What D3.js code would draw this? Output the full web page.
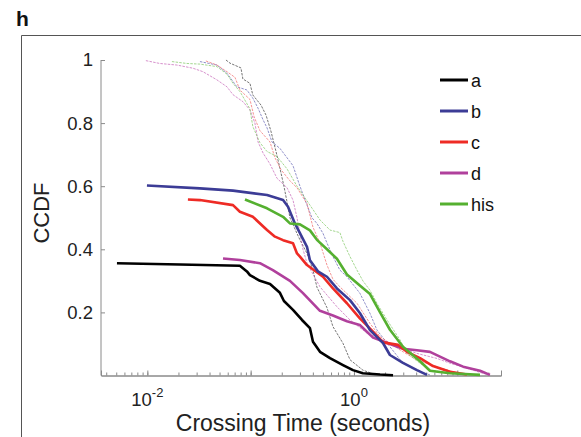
<!DOCTYPE html>
<html><head><meta charset="utf-8">
<script src="https://cdn.jsdelivr.net/npm/d3@7"></script>
<style>body{margin:0;background:#fff}svg{display:block}text{font-family:"Liberation Sans",Arial,sans-serif}</style>
</head><body>
<svg id="c" width="581" height="437"></svg>
<script>
// CCDF data: [crossing time (s), CCDF]
const aThick = [[0.00508,0.356],[0.0207,0.352],[0.0787,0.348],[0.0920,0.330],[0.0984,0.318],[0.123,0.300],[0.154,0.290],[0.192,0.262],[0.210,0.236],[0.257,0.208],[0.314,0.176],[0.375,0.150],[0.401,0.107],[0.469,0.075],[0.586,0.055],[0.783,0.033],[0.978,0.017],[1.22,0.007],[1.79,0.003],[2.39,0.001]];
const bThick = [[0.00991,0.602],[0.0323,0.593],[0.0675,0.586],[0.144,0.572],[0.206,0.556],[0.230,0.535],[0.268,0.482],[0.300,0.451],[0.351,0.408],[0.375,0.365],[0.448,0.330],[0.548,0.313],[0.684,0.276],[0.915,0.239],[1.14,0.198],[1.43,0.144],[1.91,0.103],[2.23,0.065],[2.98,0.040],[4.07,0.017],[5.09,0.002]];
const cThick = [[0.0247,0.558],[0.0323,0.556],[0.0675,0.540],[0.0787,0.519],[0.105,0.503],[0.144,0.461],[0.172,0.440],[0.206,0.429],[0.257,0.419],[0.281,0.387],[0.300,0.377],[0.351,0.350],[0.501,0.313],[0.626,0.276],[0.855,0.229],[1.14,0.181],[1.53,0.139],[1.91,0.105],[2.67,0.097],[3.26,0.075],[4.36,0.055],[5.82,0.030],[8.50,0.012],[12.4,0.003]];
const dThick = [[0.0540,0.371],[0.0787,0.366],[0.123,0.356],[0.164,0.334],[0.240,0.300],[0.321,0.261],[0.469,0.205],[0.626,0.190],[0.855,0.172],[1.14,0.160],[1.53,0.120],[2.23,0.100],[2.98,0.085],[4.07,0.080],[5.44,0.075],[6.80,0.060],[8.50,0.045],[11.4,0.028],[16.6,0.015],[20.7,0.002]];
const hisThick = [[0.0881,0.558],[0.144,0.530],[0.206,0.503],[0.240,0.482],[0.300,0.479],[0.375,0.460],[0.438,0.430],[0.548,0.400],[0.684,0.370],[0.855,0.320],[1.14,0.285],[1.43,0.258],[1.79,0.200],[2.23,0.145],[2.98,0.091],[4.36,0.045],[5.44,0.015],[8.50,0.007],[16.6,0.002]];

const aThin = [[0.0577,1.0],[0.0631,0.99],[0.0805,0.975],[0.0841,0.94],[0.0984,0.926],[0.105,0.889],[0.126,0.857],[0.141,0.825],[0.157,0.775],[0.176,0.71],[0.192,0.657],[0.210,0.60],[0.225,0.55],[0.240,0.50],[0.281,0.45],[0.300,0.43],[0.351,0.387],[0.401,0.334],[0.438,0.28],[0.548,0.215],[0.626,0.155],[0.783,0.102],[0.915,0.05],[1.22,0.017],[1.60,0.003]];
const bThin = [[0.0323,0.995],[0.0472,0.984],[0.0590,0.958],[0.0736,0.915],[0.0920,0.905],[0.105,0.879],[0.118,0.847],[0.132,0.81],[0.144,0.785],[0.161,0.74],[0.192,0.72],[0.257,0.665],[0.300,0.60],[0.351,0.54],[0.392,0.50],[0.438,0.482],[0.501,0.451],[0.548,0.42],[0.626,0.377],[0.731,0.334],[0.855,0.313],[1.14,0.261],[1.43,0.197],[1.67,0.144],[2.23,0.091],[2.98,0.039],[4.36,0.012],[5.44,0.002]];
const cThin = [[0.0369,0.997],[0.0472,0.984],[0.0590,0.963],[0.0705,0.945],[0.0787,0.905],[0.0984,0.875],[0.108,0.82],[0.123,0.776],[0.154,0.74],[0.172,0.69],[0.197,0.652],[0.240,0.617],[0.281,0.595],[0.351,0.545],[0.401,0.47],[0.469,0.42],[0.548,0.35],[0.626,0.305],[0.731,0.281],[1.07,0.229],[1.43,0.165],[1.79,0.123],[2.79,0.081],[4.07,0.049],[6.36,0.028],[9.08,0.012],[12.4,0.002]];
const dThin = [[0.00968,0.998],[0.0132,0.989],[0.0193,0.984],[0.0276,0.974],[0.0345,0.963],[0.0472,0.937],[0.0590,0.915],[0.0675,0.89],[0.0841,0.868],[0.0984,0.842],[0.110,0.80],[0.118,0.74],[0.132,0.705],[0.154,0.67],[0.180,0.625],[0.225,0.595],[0.257,0.556],[0.281,0.50],[0.300,0.45],[0.321,0.40],[0.351,0.356],[0.469,0.281],[0.684,0.218],[0.915,0.176],[1.34,0.134],[2.23,0.102],[4.07,0.07],[6.36,0.054],[8.50,0.039],[12.4,0.023],[17.7,0.007],[20.7,0.002]];
const hisThin = [[0.0173,0.995],[0.0242,0.989],[0.0323,0.987],[0.0472,0.979],[0.0590,0.955],[0.0675,0.926],[0.0787,0.90],[0.0841,0.884],[0.0984,0.845],[0.105,0.789],[0.123,0.738],[0.144,0.71],[0.180,0.694],[0.225,0.655],[0.281,0.60],[0.375,0.54],[0.469,0.493],[0.586,0.461],[0.731,0.453],[0.783,0.425],[0.915,0.377],[1.07,0.334],[1.22,0.30],[1.43,0.27],[1.67,0.229],[2.09,0.176],[2.79,0.113],[3.26,0.07],[4.36,0.039],[5.44,0.017],[8.50,0.007],[15.5,0.002]];

const seriesNames = ["a","b","c","d","his"];
const thickColors = ["#000000","#3c3c96","#ee2b25","#b0409c","#55b030"];
const thinColors = ["#333333","#5a5ab0","#f06060","#c25cb4","#78c45a"];
const thickData = [aThick,bThick,cThick,dThick,hisThick];
const thinData = [aThin,bThin,cThin,dThin,hisThin];
const yTicks = [0.2,0.4,0.6,0.8,1];
const yTickLabels = ["0.2","0.4","0.6","0.8","1"];
const xMajor = [0.01,0.1,1,10];
const xLabeled = [{v:0.01,e:"-2"},{v:1,e:"0"}];

const svg = d3.select("#c");
const x = d3.scaleLog().domain([0.00356,26.5]).range([101,501]);
const y = d3.scaleLinear().domain([0,1]).range([375.5,60]);

// panel frame
svg.append("path").attr("d","M21.5,437V35.5H581").attr("fill","none").attr("stroke","#555").attr("stroke-width",1);
svg.append("text").attr("x",16).attr("y",26).attr("font-size",21).attr("font-weight","bold").attr("fill","#111").text("h");

const axisCol = "#8a8a8a";
// x axis
const minor = [];
for (let e=-3;e<=1;e++) for (let m=1;m<=9;m++){const v=m*Math.pow(10,e); if(v>=x.domain()[0]&&v<=x.domain()[1]) minor.push(v);}
const xa = svg.append("g").attr("transform","translate(0,375.5)");
xa.call(d3.axisBottom(x).tickValues(minor).tickSize(-3).tickFormat(""));
xa.append("g").call(d3.axisBottom(x).tickValues(xMajor).tickSize(-5).tickFormat(""));
xa.selectAll("path.domain").attr("stroke",axisCol);
xa.selectAll(".tick line").attr("stroke",axisCol);

const xl = svg.append("g");
xLabeled.forEach(t=>{
  const tx = xl.append("text").attr("x",x(t.v)).attr("y",406).attr("font-size",18.5).attr("fill","#222").attr("text-anchor","middle");
  tx.append("tspan").text("10");
  tx.append("tspan").attr("dy",-9).attr("font-size",13).text(t.e);
});

// y axis
const ya = svg.append("g").attr("transform","translate(101,0)");
ya.call(d3.axisLeft(y).tickValues(yTicks).tickSize(-4).tickFormat((d,i)=>yTickLabels[i]));
ya.select("path.domain").attr("stroke",axisCol).attr("d","M0,375.5V60");
ya.selectAll(".tick line").attr("stroke",axisCol);
ya.selectAll(".tick text").attr("font-size",18.5).attr("fill","#222").attr("font-family","Liberation Sans, Arial, sans-serif").attr("x",-8);

svg.append("text").attr("transform","translate(49,213) rotate(-90)").attr("text-anchor","middle").attr("font-size",22).attr("fill","#222").text("CCDF");
svg.append("text").attr("x",303).attr("y",431).attr("text-anchor","middle").attr("font-size",23).attr("fill","#222").text("Crossing Time (seconds)");

const line = d3.line().x(d=>x(d[0])).y(d=>y(d[1]));
const plot = svg.append("g");
thinData.forEach((s,i)=>{
  plot.append("path").attr("d",line(s)).attr("fill","none").attr("stroke",thinColors[i]).attr("stroke-width",0.85).attr("stroke-dasharray","2.5,1.2").attr("opacity",0.8);
});
[3,0,2,1,4].forEach(i=>{
  plot.append("path").attr("d",line(thickData[i])).attr("fill","none").attr("stroke",thickColors[i]).attr("stroke-width",2.6).attr("stroke-linejoin","round");
});

// legend
const lg = svg.append("g");
seriesNames.forEach((n,i)=>{
  const yy = 80 + i*31;
  lg.append("line").attr("x1",440).attr("x2",468).attr("y1",yy).attr("y2",yy).attr("stroke",thickColors[i]).attr("stroke-width",3);
  lg.append("text").attr("x",471).attr("y",yy+6.5).attr("font-size",18).attr("fill","#111").text(n);
});
</script>
</body></html>
